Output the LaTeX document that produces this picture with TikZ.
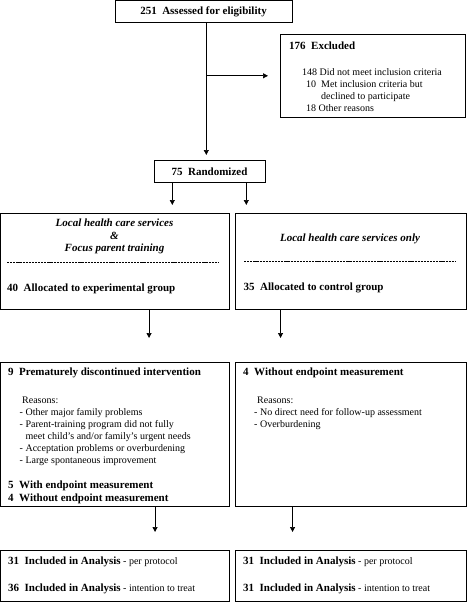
\documentclass[tikz,border=0pt]{standalone}
\usepackage{fontspec}
\setmainfont{Liberation Serif}
\usetikzlibrary{arrows.meta}
\newcommand{\bfl}[1]{{\fontsize{11}{12}\selectfont\bfseries #1}}
\begin{document}
\begin{tikzpicture}[x=1pt,y=-1pt,
  box/.style={draw, line width=0.6pt, inner sep=0pt, anchor=north west},
  txt/.style={anchor=base west, inner sep=0pt, font=\fontsize{10}{12}\selectfont},
  bftxt/.style={anchor=base west, inner sep=0pt, font=\fontsize{11}{12}\selectfont\bfseries},
  bfc/.style={anchor=base, inner sep=0pt, font=\fontsize{11}{12}\selectfont\bfseries},
  head/.style={anchor=base, inner sep=0pt, font=\fontsize{11}{12}\selectfont\bfseries\itshape},
  arr/.style={line width=0.7pt, -{Triangle[length=5pt,width=5pt]}},
  sep/.style={line width=0.8pt, dash pattern=on 2.2pt off 0.9pt}]
\useasboundingbox (0,0) rectangle (466,602);

% boxes
\node[box, minimum width=177pt, minimum height=22pt] (assess) at (115,0.5) {};
\node[box, minimum width=185pt, minimum height=83pt] (excl) at (280,34) {};
\node[box, minimum width=111pt, minimum height=22pt] (rand) at (154,160) {};
\node[box, minimum width=228.5pt, minimum height=96pt] (exp) at (0.5,213) {};
\node[box, minimum width=230.5pt, minimum height=96pt] (ctrl) at (235,213) {};
\node[box, minimum width=228.5pt, minimum height=144pt] (disc) at (0.5,362) {};
\node[box, minimum width=230.5pt, minimum height=144pt] (noend) at (235,362) {};
\node[box, minimum width=228.5pt, minimum height=50.5pt] (anL) at (0.5,550) {};
\node[box, minimum width=230.5pt, minimum height=50.5pt] (anR) at (235,550) {};

% texts
\node[bfc] (t1) at (203.5,15) {251\ \ Assessed for eligibility};

\node[bftxt] (t2) at (289,49.5) {176\ \ Excluded};
\node[txt] (t3) at (302,75.5) {148 Did not meet inclusion criteria};
\node[txt] (t4) at (306,87.5) {10\ \ Met inclusion criteria but};
\node[txt] (t5) at (321,99.5) {declined to participate};
\node[txt] (t6) at (306,111.5) {18 Other reasons};

\node[bfc] (t7) at (209.5,175) {75\ \ Randomized};

\node[head] (h1) at (114.5,226.5) {Local health care services};
\node[head] (h2) at (114.5,239.5) {\&};
\node[head] (h3) at (114.5,251.5) {Focus parent training};
\coordinate (s1a) at (7,262);
\coordinate (s1b) at (219,262);
\draw[sep] (s1a) -- (s1b);
\node[bftxt] (t8) at (7,291.5) {40\ \ Allocated to experimental group};

\node[head] (h4) at (350,241.5) {Local health care services only};
\coordinate (s2a) at (244,261);
\coordinate (s2b) at (455,261);
\draw[sep] (s2a) -- (s2b);
\node[bftxt] (t9) at (243.5,290.5) {35\ \ Allocated to control group};

\node[bftxt] (t10) at (8,375.5) {9\ \ Prematurely discontinued intervention};
\node[txt] (t11) at (22,403.5) {Reasons:};
\node[txt] (t12) at (19.5,415.5) {- Other major family problems};
\node[txt] (t13) at (19.5,427.5) {- Parent-training program did not fully};
\node[txt] (t14) at (25.5,439.5) {meet child’s and/or family’s urgent needs};
\node[txt] (t15) at (19.5,451.5) {- Acceptation problems or overburdening};
\node[txt] (t16) at (19.5,463.5) {- Large spontaneous improvement};
\node[bftxt] (t17) at (8,488.5) {5\ \ With endpoint measurement};
\node[bftxt] (t18) at (8,501.5) {4\ \ Without endpoint measurement};

\node[bftxt] (t19) at (243,375.5) {4\ \ Without endpoint measurement};
\node[txt] (t20) at (257,403.5) {Reasons:};
\node[txt] (t21) at (254,415.5) {- No direct need for follow-up assessment};
\node[txt] (t22) at (254,427.5) {- Overburdening};

\node[txt] (t23) at (8,564.5) {\bfl{31\ \ Included in Analysis} - per protocol};
\node[txt] (t24) at (8,591.5) {\bfl{36\ \ Included in Analysis} - intention to treat};
\node[txt] (t25) at (243,564.5) {\bfl{31\ \ Included in Analysis} - per protocol};
\node[txt] (t26) at (243,591.5) {\bfl{31\ \ Included in Analysis} - intention to treat};

% connectors
\draw[arr, shorten >=5pt] ([xshift=2.5pt]assess.south) -- ([xshift=2.5pt]assess.south |- rand.north);
\coordinate (br) at ([xshift=2.5pt]assess.south |- excl.west);
\draw[arr, shorten >=12pt] (br) -- (excl.west);
\draw[arr, shorten >=8pt] ([xshift=-37.5pt]rand.south) -- ([xshift=-37.5pt]rand.south |- exp.north);
\draw[arr, shorten >=8pt] ([xshift=36.5pt]rand.south) -- ([xshift=36.5pt]rand.south |- ctrl.north);
\draw[arr, shorten >=24pt] ([xshift=34pt]exp.south) -- ([xshift=34pt]exp.south |- disc.north);
\draw[arr, shorten >=24pt] ([xshift=-70pt]ctrl.south) -- ([xshift=-70pt]ctrl.south |- noend.north);
\draw[arr, shorten >=18pt] ([xshift=40pt]disc.south) -- ([xshift=40pt]disc.south |- anL.north);
\draw[arr, shorten >=18pt] ([xshift=-58pt]noend.south) -- ([xshift=-58pt]noend.south |- anR.north);
\end{tikzpicture}
\end{document}
